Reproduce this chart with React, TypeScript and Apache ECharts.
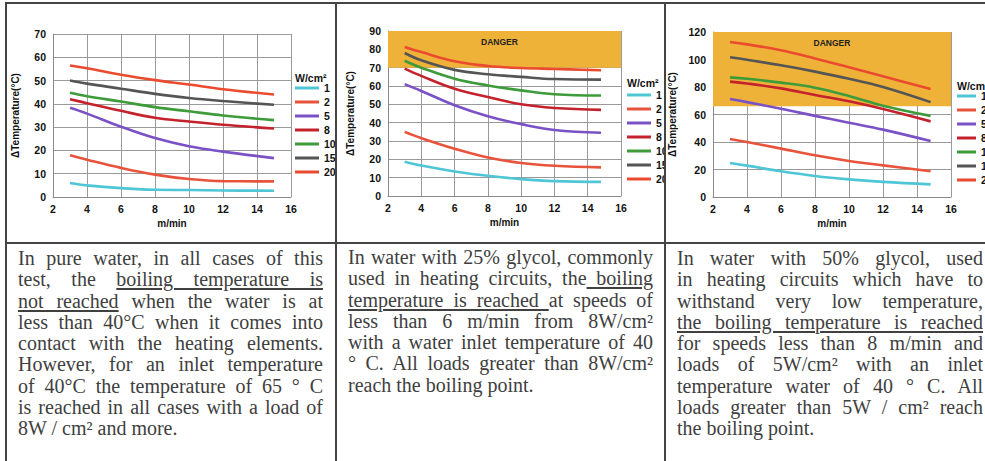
import React, { useEffect, useRef } from "react";
import * as echarts from "echarts";

// ---------- DATA ----------
const loads = ["1", "2", "5", "8", "10", "15", "20"];
const lineColors = ["#4EC6D6", "#E8533C", "#7A52C6", "#C4222C", "#3E9B3A", "#555555", "#EA4B2F"];

const pureSpeeds = [3, 4, 6, 8, 10, 12, 15];
const pureCurves = [
  [6.0, 5.0, 3.8, 3.1, 3.0, 2.8, 2.7],
  [17.9, 16.0, 12.5, 9.6, 7.7, 6.8, 6.7],
  [38.3, 35.8, 30.2, 25.3, 21.8, 19.5, 16.7],
  [42.0, 40.3, 37.0, 34.0, 32.4, 31.0, 29.4],
  [44.8, 43.3, 41.0, 38.6, 36.8, 35.0, 33.0],
  [50.0, 48.7, 46.5, 44.3, 42.5, 41.2, 39.6],
  [56.5, 55.3, 52.5, 50.2, 48.3, 46.3, 44.0],
];

const glycol25Speeds = [3, 4, 6, 8, 10, 12, 14.8];
const glycol25Curves = [
  [18.7, 16.6, 13.4, 11.0, 9.2, 8.1, 7.7],
  [35.0, 31.6, 25.8, 21.0, 18.0, 16.5, 15.6],
  [61.0, 57.3, 49.5, 43.5, 39.2, 36.0, 34.5],
  [69.5, 65.5, 58.5, 54.0, 50.0, 48.0, 47.0],
  [73.8, 70.0, 64.0, 60.3, 57.6, 55.5, 54.8],
  [78.0, 74.0, 68.8, 66.4, 65.0, 63.8, 63.5],
  [81.3, 78.5, 73.5, 70.9, 69.8, 69.3, 68.6],
];

const glycol50Speeds = [3, 4, 6, 8, 10, 12, 14.8];
const glycol50Curves = [
  [24.7, 22.8, 18.7, 15.3, 12.8, 11.0, 9.2],
  [42.2, 40.0, 35.2, 30.3, 26.2, 23.0, 18.7],
  [71.3, 69.0, 64.2, 59.0, 54.0, 49.0, 40.7],
  [83.9, 82.6, 79.0, 74.2, 69.6, 64.0, 55.0],
  [87.0, 86.0, 83.2, 79.5, 73.5, 66.4, 59.0],
  [101.6, 99.8, 95.8, 91.2, 86.0, 80.0, 69.0],
  [112.7, 111.0, 106.7, 100.8, 94.3, 87.8, 78.5],
];

const yMaxes = [70, 90, 120];
const yIntervals = [10, 10, 20];
const dangerFrom = [null, 70, 66];

// ---------- TEXT ----------
type Seg = [string, boolean];
const col1Lines: Seg[][] = [
  [["In pure water, in all cases of this", false]],
  [["test, the ", false], ["boiling temperature is", true]],
  [["not reached", true], [" when the water is at", false]],
  [["less than 40°C when it comes into", false]],
  [["contact with the heating elements.", false]],
  [["However, for an inlet temperature", false]],
  [["of 40°C the temperature of 65 ° C", false]],
  [["is reached in all cases with a load of", false]],
  [["8W / cm² and more.", false]],
];
const col2Lines: Seg[][] = [
  [["In water with 25% glycol, commonly", false]],
  [["used in heating circuits, the", false], ["\u00a0boiling", true]],
  [["temperature is reached\u00a0", true], ["at speeds of", false]],
  [["less than 6 m/min from 8W/cm²", false]],
  [["with a water inlet temperature of 40", false]],
  [["° C. All loads greater than 8W/cm²", false]],
  [["reach the boiling point.", false]],
];
const col3Lines: Seg[][] = [
  [["In water with 50% glycol, used", false]],
  [["in heating circuits which have to", false]],
  [["withstand very low temperature,", false]],
  [["the boiling temperature is reached", true]],
  [["for speeds less than 8 m/min and", false]],
  [["loads of 5W/cm² with an inlet", false]],
  [["temperature water of 40 ° C. All", false]],
  [["loads greater than 5W / cm² reach", false]],
  [["the boiling point.", false]],
];

const FONT = "'Liberation Sans', Arial, Helvetica, sans-serif";

type ChartCfg = {
  xs: number[];
  curves: number[][];
  yMax: number;
  yInterval: number;
  danger: number | null;
  grid: { left: number; top: number; width: number; height: number };
  legendLeft: number;
  legendTop: number;
  legendIconWidth: number;
  titleTop: number;
  dangerOffset: number;
};

function buildOption(c: ChartCfg): any {
  const series: any[] = loads.map((name, i) => ({
    name,
    type: "line",
    smooth: 0.4,
    symbol: "none",
    showSymbol: false,
    data: c.xs.map((x, j) => [x, c.curves[i][j]]),
    lineStyle: { width: 2.6, color: lineColors[i] },
    itemStyle: { color: lineColors[i] },
    z: 2,
  }));
  if (c.danger !== null) {
    series.unshift({
      type: "line",
      name: "danger",
      data: [],
      z: -1,
      silent: true,
      markArea: {
        silent: true,
        itemStyle: { color: "#EFB238" },
        label: {
          show: true,
          position: "insideTop",
          distance: 6,
          offset: [c.dangerOffset, 0],
          formatter: "DANGER",
          fontSize: 8.5,
          fontWeight: "bold",
          fontFamily: FONT,
          color: "#222",
        },
        data: [[{ xAxis: 2, yAxis: c.danger }, { xAxis: 16, yAxis: c.yMax }]],
      },
    });
  }
  const axisLabel = { fontSize: 10.5, fontWeight: "bold", fontFamily: FONT, color: "#111" };
  const nameStyle = { fontSize: 10, fontWeight: "bold", fontFamily: FONT, color: "#111" };
  return {
    animation: false,
    backgroundColor: "#fff",
    grid: { ...c.grid, containLabel: false, outerBoundsMode: "none" },
    xAxis: {
      type: "value",
      min: 2,
      max: 16,
      interval: 2,
      name: "m/min",
      nameLocation: "middle",
      nameGap: 20,
      nameTextStyle: nameStyle,
      axisLine: { show: true, lineStyle: { color: "#8a8a8a", width: 1 } },
      axisTick: { show: false },
      axisLabel: { ...axisLabel, margin: 6 },
      splitLine: { show: true, lineStyle: { color: "#9a9a9a", width: 1 } },
    },
    yAxis: {
      type: "value",
      min: 0,
      max: c.yMax,
      interval: c.yInterval,
      name: "ΔTemperature(°C)",
      nameLocation: "middle",
      nameGap: 33,
      nameTextStyle: nameStyle,
      axisLine: { show: true, lineStyle: { color: "#8a8a8a", width: 1 } },
      axisTick: { show: false },
      axisLabel: { ...axisLabel, margin: 7 },
      splitLine: { show: true, lineStyle: { color: "#9a9a9a", width: 1 } },
    },
    legend: {
      orient: "vertical",
      left: c.legendLeft,
      top: c.legendTop,
      padding: 0,
      itemGap: 0,
      itemWidth: c.legendIconWidth,
      itemHeight: 3,
      icon: "rect",
      selectedMode: false,
      data: loads,
      textStyle: { fontSize: 10.5, fontWeight: "bold", fontFamily: FONT, color: "#111", lineHeight: 14 },
    },
    graphic: [
      {
        type: "text",
        left: c.legendLeft,
        top: c.titleTop,
        style: { text: "W/cm²", font: "bold 10.5px " + FONT, fill: "#111" },
      },
    ],
    series,
  };
}

function Chart({ cfg, style }: { cfg: ChartCfg; style: React.CSSProperties }) {
  const ref = useRef<HTMLDivElement>(null);
  useEffect(() => {
    if (!ref.current) return;
    const chart = echarts.init(ref.current, undefined, { renderer: "svg" });
    chart.setOption(buildOption(cfg));
    return () => chart.dispose();
  }, []);
  return (
    <div style={{ position: "absolute", overflow: "hidden", ...style }}>
      <div ref={ref} style={{ width: 340, height: style.height as number }} />
    </div>
  );
}

function TextBlock({ lines, left, top, width }: { lines: Seg[][]; left: number; top: number; width: number }) {
  return (
    <div
      style={{
        position: "absolute",
        left,
        top,
        width,
        fontFamily: "'Liberation Serif', 'Times New Roman', serif",
        fontSize: 20,
        lineHeight: "21.25px",
        color: "#404040",
      }}
    >
      {lines.map((segs, i) => {
        const last = i === lines.length - 1;
        return (
          <div
            key={i}
            style={{
              height: 21.25,
              textAlign: last ? "left" : "justify",
              textAlignLast: last ? "left" : "justify",
            } as React.CSSProperties}
          >
            {segs.map(([t, u], k) =>
              u ? (
                <span key={k} style={{ textDecoration: "underline", textUnderlineOffset: 2 }}>
                  {t}
                </span>
              ) : (
                <span key={k}>{t}</span>
              )
            )}
          </div>
        );
      })}
    </div>
  );
}

export default function App() {
  const border = "#444";
  const cfg1: ChartCfg = {
    xs: pureSpeeds,
    curves: pureCurves,
    yMax: yMaxes[0],
    yInterval: yIntervals[0],
    danger: dangerFrom[0],
    grid: { left: 46, top: 30, width: 238, height: 163 },
    legendLeft: 288,
    legendTop: 77,
    legendIconWidth: 24,
    titleTop: 68,
    dangerOffset: 0,
  };
  const cfg2: ChartCfg = {
    xs: glycol25Speeds,
    curves: glycol25Curves,
    yMax: yMaxes[1],
    yInterval: yIntervals[1],
    danger: dangerFrom[1],
    grid: { left: 51, top: 27, width: 233, height: 165 },
    legendLeft: 290,
    legendTop: 84,
    legendIconWidth: 24,
    titleTop: 73,
    dangerOffset: -5,
  };
  const cfg3: ChartCfg = {
    xs: glycol50Speeds,
    curves: glycol50Curves,
    yMax: yMaxes[2],
    yInterval: yIntervals[2],
    danger: dangerFrom[2],
    grid: { left: 47, top: 28, width: 238, height: 165 },
    legendLeft: 291,
    legendTop: 85,
    legendIconWidth: 19,
    titleTop: 76,
    dangerOffset: 0,
  };
  return (
    <div
      style={{
        position: "fixed",
        left: 0,
        top: 0,
        width: 985,
        height: 461,
        overflow: "hidden",
        background: "#fff",
      }}
    >
      <Chart cfg={cfg1} style={{ left: 7, top: 4, width: 328, height: 238 }} />
      <Chart cfg={cfg2} style={{ left: 337, top: 4, width: 327, height: 238 }} />
      <Chart cfg={cfg3} style={{ left: 666, top: 4, width: 319, height: 238 }} />

      <div style={{ position: "absolute", left: 5, top: 2, width: 995, height: 2, background: border }} />
      <div style={{ position: "absolute", left: 5, top: 242, width: 995, height: 2, background: border }} />
      <div style={{ position: "absolute", left: 5, top: 2, width: 2, height: 470, background: border }} />
      <div style={{ position: "absolute", left: 335, top: 2, width: 2, height: 470, background: border }} />
      <div style={{ position: "absolute", left: 664, top: 2, width: 2, height: 470, background: border }} />

      <TextBlock lines={col1Lines} left={18} top={248} width={305} />
      <TextBlock lines={col2Lines} left={348} top={247} width={305} />
      <TextBlock lines={col3Lines} left={677} top={248} width={306} />
    </div>
  );
}
